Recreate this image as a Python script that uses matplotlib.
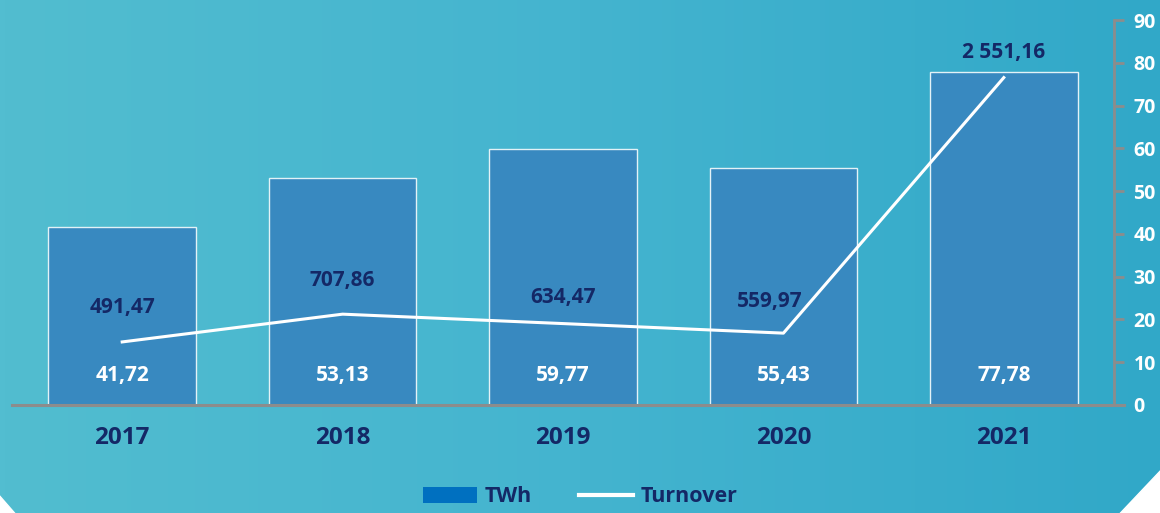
import numpy as np
import matplotlib
matplotlib.use("Agg")
import matplotlib.pyplot as plt
from matplotlib.patches import Patch, Polygon
from matplotlib.lines import Line2D
from matplotlib.colors import LinearSegmentedColormap

plt.rcParams['font.family'] = ['Open Sans', 'DejaVu Sans']

years = ["2017", "2018", "2019", "2020", "2021"]
twh = [41.72, 53.13, 59.77, 55.43, 77.78]
turnover = [491.47, 707.86, 634.47, 559.97, 2551.16]
twh_ticks = [0, 10, 20, 30, 40, 50, 60, 70, 80, 90]

navy = '#142866'
gray = '#8c8c8c'


def fmt(v):
    # space as thousands separator, comma as decimal mark
    s = f"{v:,.2f}"
    return s.replace(",", " ").replace(".", ",")


W, H = 1160, 513
fig = plt.figure(figsize=(W / 100, H / 100), dpi=100)

# background gradient
bg = fig.add_axes([0, 0, 1, 1], zorder=-10)
grad = np.linspace(0, 1, 256).reshape(1, -1)
cmap = LinearSegmentedColormap.from_list("bg", ["#52bdd0", "#44b4cf", "#31a8c8"])
bg.imshow(grad, aspect='auto', cmap=cmap, extent=[0, 1, 0, 1])
bg.set_xlim(0, 1)
bg.set_ylim(0, 1)
bg.axis('off')
# white cut corners
bg.add_patch(Polygon([(1120 / W, -0.001), (1.001, 43 / H), (1.001, -0.001)], color='white', zorder=5))
bg.add_patch(Polygon([(-0.001, 18 / H), (15 / W, -0.001), (-0.001, -0.001)], color='white', zorder=5))

ax = fig.add_axes([12 / W, 108 / H, 1102 / W, 385 / H])
ax.set_facecolor('none')
x = np.arange(len(years))
ax.bar(x, twh, width=0.67, color='#3889c0', edgecolor='#e3f2f7', linewidth=1, zorder=2)
ax.set_xlim(-0.5, 4.5)
ax.set_ylim(0, 90)

ax2 = ax.twinx()
ax2.set_ylim(0, 3000)
ax2.axis('off')

for s in ['top', 'left', 'bottom']:
    ax.spines[s].set_visible(False)
ax.spines['right'].set_visible(True)
ax.spines['right'].set_color(gray)
ax.spines['right'].set_linewidth(2)
ax.plot([-0.5, 4.545], [0, 0], color=gray, lw=2.2, clip_on=False, zorder=3)

ax.yaxis.tick_right()
ax.set_yticks(twh_ticks)
ax.tick_params(axis='y', which='both', left=False, labelleft=False, right=True, labelright=True,
               colors=gray, length=7, width=2, pad=7)
for lab in ax.get_yticklabels():
    lab.set_color('white')
    lab.set_fontweight('bold')
    lab.set_fontsize(14)

ax.set_xticks(x)
ax.set_xticklabels(years, color=navy, fontweight='bold', fontsize=17.5)
ax.tick_params(axis='x', length=0, pad=15)

for xi, v in zip(x, twh):
    ax.annotate(fmt(v), (xi, 0), xytext=(0, 21), textcoords='offset points',
                ha='center', va='center', color='white', fontweight='bold', fontsize=15)

ax2.plot(x, turnover, color='white', lw=2.2, zorder=4)
# label offsets (points) from each line vertex
label_dx = [0, 0, 0, -10, 0]
label_dy = [25, 24, 19, 23, 18]
for xi, v, dx, dy in zip(x, turnover, label_dx, label_dy):
    ax2.annotate(fmt(v), (xi, v), xytext=(dx, dy), textcoords='offset points',
                 ha='center', va='center', color=navy, fontweight='bold', fontsize=15,
                 zorder=6)

handles = [Patch(facecolor='#0070c0', edgecolor='none', label='TWh'),
           Line2D([0], [0], color='white', lw=3, label='Turnover')]
leg = fig.legend(handles=handles, loc='center', bbox_to_anchor=(0.5, 16 / H), ncol=2,
                 frameon=False, handlelength=2.5, columnspacing=2.2, handletextpad=0.35,
                 prop={'weight': 'bold', 'size': 15.5})
for t in leg.get_texts():
    t.set_color(navy)

fig.savefig("out.png", dpi=100)
